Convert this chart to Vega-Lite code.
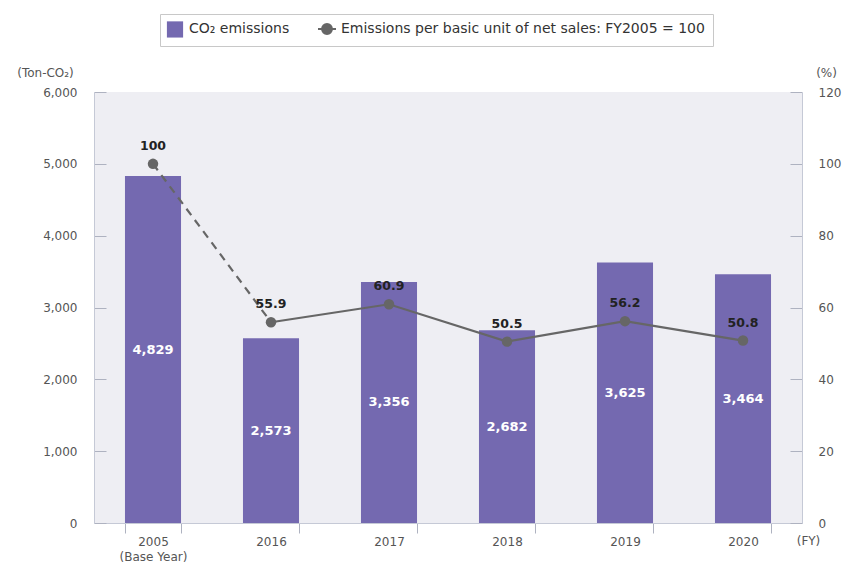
{
  "$schema": "https://vega.github.io/schema/vega-lite/v6.json",
  "autosize": {"type": "none"},
  "width": 708,
  "height": 431,
  "padding": {"left": 94, "top": 92, "right": 43, "bottom": 40},
  "background": "white",
  "config": {
    "font": "DejaVu Sans",
    "view": {"fill": "#eeeef3", "stroke": null},
    "axis": {"labelColor": "#555555", "labelFontSize": 12, "titleColor": "#555555", "titleFontSize": 12, "titleFontWeight": "normal", "grid": false, "domainColor": "#c5c9d6", "tickColor": "#aeb2c0"}
  },
  "data": {"values": [
    {"year": "2005", "co2": 4829, "pct": 100},
    {"year": "2016", "co2": 2573, "pct": 55.9},
    {"year": "2017", "co2": 3356, "pct": 60.9},
    {"year": "2018", "co2": 2682, "pct": 50.5},
    {"year": "2019", "co2": 3625, "pct": 56.2},
    {"year": "2020", "co2": 3464, "pct": 50.8}
  ]},
  "encoding": {
    "x": {
      "field": "year", "type": "nominal", "sort": null,
      "scale": {"paddingInner": 0.525, "paddingOuter": 0.2625},
      "axis": {
        "title": "(FY)", "titleX": 714, "titleY": 17, "titleAlign": "center", "titleBaseline": "middle",
        "labelAngle": 0, "tickBand": "extent", "tickSize": 10, "labelPadding": 3, "labelBaseline": "top", "labelLineHeight": 15,
        "labelExpr": "datum.value == '2005' ? ['2005', '(Base Year)'] : datum.label"
      }
    }
  },
  "layer": [
    {
      "mark": {"type": "bar", "color": "#7469b0"},
      "encoding": {
        "y": {"field": "co2", "type": "quantitative", "scale": {"domain": [0, 6000]},
          "axis": {"orient": "left", "values": [0, 1000, 2000, 3000, 4000, 5000, 6000], "format": ",.0f", "tickSize": -12, "labelPadding": 29,
            "title": "(Ton-CO₂)", "titleAngle": 0, "titleX": -49, "titleY": -20, "titleAlign": "center", "titleBaseline": "middle"}},
        "color": {"datum": "CO₂ emissions", "type": "nominal",
          "scale": {"domain": ["CO₂ emissions", "Emissions per basic unit of net sales: FY2005 = 100"], "range": ["#7469b0", "#666666"]},
          "legend": {
            "title": null, "orient": "none", "legendX": 66, "legendY": -78, "direction": "horizontal",
            "fillColor": "white", "strokeColor": "#c8c8c8", "padding": 8, "cornerRadius": 0,
            "labelFontSize": 14, "labelColor": "#333333", "labelFont": "DejaVu Sans", "labelLimit": 600, "symbolSize": 324, "columnPadding": 24, "labelOffset": 7,
            "encode": {"symbols": {"update": {
              "shape": {"signal": "datum.value === 'CO₂ emissions' ? 'M-0.9,-0.9H0.9V0.9H-0.9Z' : 'M-1,0L1,0M0.55,0A0.55,0.55,0,1,1,-0.55,0A0.55,0.55,0,1,1,0.55,0'"},
              "fill": {"scale": "color", "field": "value"},
              "stroke": {"scale": "color", "field": "value"},
              "strokeWidth": {"signal": "datum.value === 'CO₂ emissions' ? 0 : 2"},
              "opacity": {"value": 1}, "fillOpacity": {"value": 1}, "strokeOpacity": {"value": 1}
            }}}
          }
        }
      }
    },
    {
      "mark": {"type": "text", "color": "white", "fontWeight": "bold", "fontSize": 13, "baseline": "middle"},
      "encoding": {
        "y": {"field": "co2", "type": "quantitative", "scale": {"domain": [0, 12000]}, "axis": null},
        "text": {"field": "co2", "type": "quantitative", "format": ","}
      }
    },
    {
      "transform": [{"filter": "datum.year == '2005' || datum.year == '2016'"}],
      "mark": {"type": "line", "strokeDash": [8, 6], "strokeWidth": 2.2},
      "encoding": {
        "y": {"field": "pct", "type": "quantitative", "scale": {"domain": [0, 120]}, "axis": null},
        "color": {"datum": "Emissions per basic unit of net sales: FY2005 = 100", "type": "nominal"}
      }
    },
    {
      "transform": [{"filter": "datum.year != '2005'"}],
      "mark": {"type": "line", "strokeWidth": 2.2},
      "encoding": {
        "y": {"field": "pct", "type": "quantitative", "scale": {"domain": [0, 120]}, "axis": null},
        "color": {"datum": "Emissions per basic unit of net sales: FY2005 = 100", "type": "nominal"}
      }
    },
    {
      "mark": {"type": "point", "filled": true, "size": 110, "opacity": 1},
      "encoding": {
        "y": {"field": "pct", "type": "quantitative", "scale": {"domain": [0, 120]},
          "axis": {"orient": "right", "values": [0, 20, 40, 60, 80, 100, 120], "tickSize": -12, "labelPadding": 28,
            "title": "(%)", "titleAngle": 0, "titleX": 24, "titleY": -20, "titleAlign": "center", "titleBaseline": "middle"}},
        "color": {"datum": "Emissions per basic unit of net sales: FY2005 = 100", "type": "nominal"}
      }
    },
    {
      "mark": {"type": "text", "color": "#222222", "fontSize": 12.5, "fontWeight": 600, "baseline": "middle", "dy": -18},
      "encoding": {
        "y": {"field": "pct", "type": "quantitative", "scale": {"domain": [0, 120]}, "axis": null},
        "text": {"field": "pct", "type": "quantitative", "format": "~f"}
      }
    }
  ],
  "resolve": {"scale": {"y": "independent"}}
}
